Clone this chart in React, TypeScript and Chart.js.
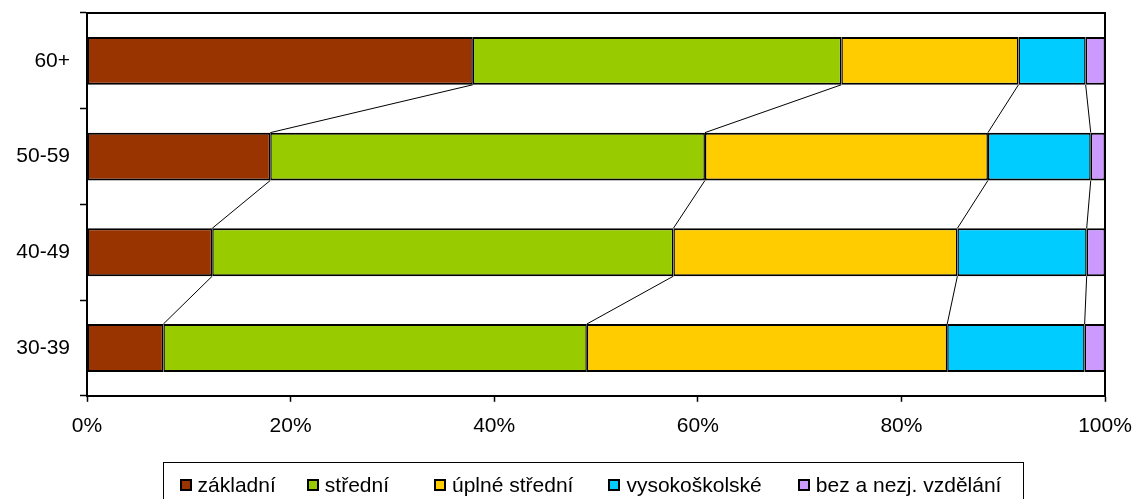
import React, { useEffect, useRef } from 'react';
import { Chart, registerables } from 'chart.js';

Chart.register(...registerables);

const categories = ['60+', '50-59', '40-49', '30-39'];
const seriesNames = ['základní', 'střední', 'úplné střední', 'vysokoškolské', 'bez a nezj. vzdělání'];
const zakladni = [37.9, 18.0, 12.3, 7.5];
const stredni = [36.2, 42.7, 45.3, 41.6];
const uplneStredni = [17.4, 27.8, 27.9, 35.4];
const vysokoskolske = [6.6, 10.1, 12.7, 13.5];
const bezNezj = [1.9, 1.4, 1.8, 2.0];
const seriesColors = ['#993300', '#99CC00', '#FFCC00', '#00CCFF', '#CC99FF'];
const xTickValues = [0, 20, 40, 60, 80, 100];

const FONT_FAMILY = '"Liberation Sans", Arial, Helvetica, sans-serif';
const FONT_SIZE = 21;

const seriesLinesPlugin = {
  id: 'seriesLines',
  afterDatasetsDraw(chart: any) {
    const ctx = chart.ctx;
    ctx.save();
    ctx.strokeStyle = '#000';
    ctx.lineWidth = 1;
    const n = chart.data.datasets.length;
    for (let d = 0; d < n - 1; d++) {
      const meta = chart.getDatasetMeta(d);
      for (let j = 0; j < meta.data.length - 1; j++) {
        const a = meta.data[j];
        const b = meta.data[j + 1];
        ctx.beginPath();
        ctx.moveTo(a.x, a.y + a.height / 2);
        ctx.lineTo(b.x, b.y - b.height / 2);
        ctx.stroke();
      }
    }
    ctx.restore();
  },
};

const framePlugin = {
  id: 'plotFrame',
  afterDraw(chart: any) {
    const { left, right, top, bottom } = chart.chartArea;
    const ctx = chart.ctx;
    ctx.save();
    ctx.strokeStyle = '#000';
    ctx.lineWidth = 2;
    ctx.beginPath();
    ctx.moveTo(left, top);
    ctx.lineTo(right, top);
    ctx.lineTo(right, bottom);
    ctx.stroke();
    ctx.restore();
  },
};

const legendGaps = [31, 45, 35, 36];

const legendPlugin = {
  id: 'customLegend',
  afterDraw(chart: any) {
    const ctx = chart.ctx;
    const area = chart.chartArea;
    ctx.save();
    ctx.font = `${FONT_SIZE}px ${FONT_FAMILY}`;
    const box = 12;
    const gap = 6;
    const widths = seriesNames.map((s) => ctx.measureText(s).width);
    const total =
      widths.reduce((s, w) => s + box + gap + w, 0) +
      legendGaps.reduce((s, g) => s + g, 0);
    const cx = (area.left + area.right) / 2 - 5.5;
    const startX = cx - total / 2;
    const baseline = chart.height - 7;
    const boxTop = chart.height - 20;
    const frameTop = chart.height - 37;
    ctx.strokeStyle = '#000';
    ctx.lineWidth = 1;
    ctx.strokeRect(Math.round(startX - 17) + 0.5, frameTop + 0.5, Math.round(total + 38), 60);
    let x = startX;
    seriesNames.forEach((name, i) => {
      ctx.fillStyle = '#000';
      ctx.fillRect(Math.round(x), boxTop, box, box);
      ctx.fillStyle = seriesColors[i];
      ctx.fillRect(Math.round(x) + 2, boxTop + 2, box - 4, box - 4);
      ctx.fillStyle = '#000';
      ctx.textBaseline = 'alphabetic';
      ctx.textAlign = 'left';
      ctx.fillText(name, x + box + gap, baseline);
      x += box + gap + widths[i] + (legendGaps[i] || 0);
    });
    ctx.restore();
  },
};

export default function App() {
  const canvasRef = useRef<HTMLCanvasElement | null>(null);

  useEffect(() => {
    const canvas = canvasRef.current;
    if (!canvas) return;
    const seriesData = [zakladni, stredni, uplneStredni, vysokoskolske, bezNezj];
    const chart = new Chart(canvas, {
      type: 'bar',
      data: {
        labels: categories,
        datasets: seriesData.map((values, i) => ({
          label: seriesNames[i],
          data: values,
          backgroundColor: seriesColors[i],
          borderColor: '#000',
          borderWidth: { top: 2, bottom: 2, left: 1.5, right: 1.5 },
          borderSkipped: false,
          categoryPercentage: 1,
          barPercentage: 0.5,
        })),
      },
      options: {
        indexAxis: 'y',
        responsive: false,
        animation: false,
        devicePixelRatio: 1,
        layout: { padding: { left: 0, right: 30, top: 13, bottom: 48 } },
        plugins: {
          legend: { display: false },
          tooltip: { enabled: false },
        },
        scales: {
          x: {
            stacked: true,
            min: 0,
            max: 100,
            afterBuildTicks: (scale: any) => {
              scale.ticks = xTickValues.map((v) => ({ value: v }));
            },
            afterFit: (scale: any) => {
              scale.paddingLeft = 0;
              scale.paddingRight = 0;
            },
            ticks: {
              color: '#000',
              padding: 12,
              maxRotation: 0,
              font: { family: FONT_FAMILY, size: FONT_SIZE },
              callback: (v: any) => `${v}%`,
            },
            grid: {
              drawOnChartArea: false,
              drawTicks: true,
              tickLength: 6,
              color: '#000',
              tickWidth: 1.5,
            },
            border: { display: true, color: '#000', width: 2 },
          },
          y: {
            stacked: true,
            afterFit: (scale: any) => {
              scale.width = 87;
              scale.paddingTop = 0;
              scale.paddingBottom = 0;
            },
            ticks: {
              color: '#000',
              padding: 10,
              font: { family: FONT_FAMILY, size: FONT_SIZE },
            },
            grid: {
              offset: true,
              drawOnChartArea: false,
              drawTicks: true,
              tickLength: 7,
              color: '#000',
              tickWidth: 1.5,
            },
            border: { display: true, color: '#000', width: 2 },
          },
        },
      },
      plugins: [seriesLinesPlugin, framePlugin, legendPlugin],
    } as any);
    return () => chart.destroy();
  }, []);

  return (
    <div style={{ position: 'fixed', left: 0, top: 0, width: 1135, height: 499, background: '#fff' }}>
      <canvas ref={canvasRef} width={1135} height={499} style={{ display: 'block', width: 1135, height: 499 }} />
    </div>
  );
}
